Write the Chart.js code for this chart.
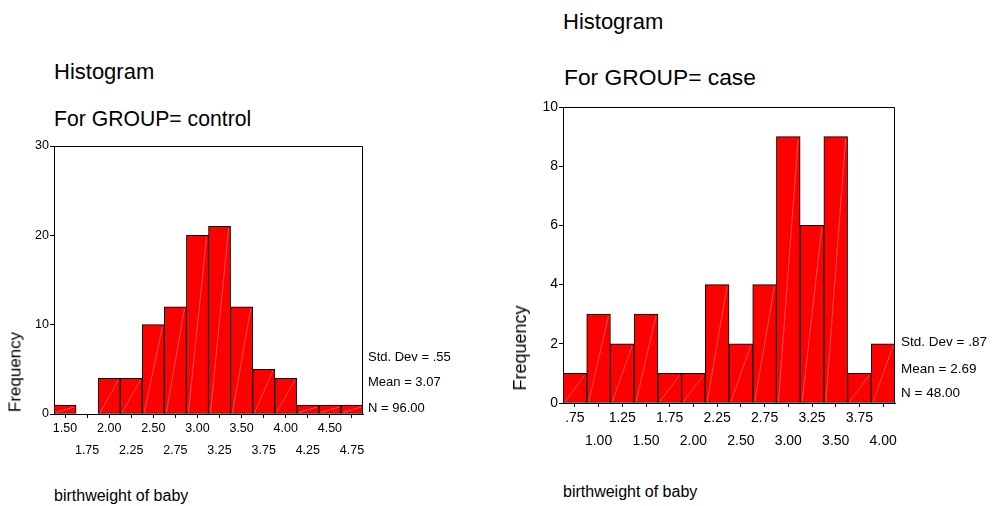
<!DOCTYPE html>
<html><head><meta charset="utf-8">
<script src="https://cdn.jsdelivr.net/npm/chart.js@4.4.1/dist/chart.umd.min.js"></script>
<style>
html,body{margin:0;padding:0;background:#fff;width:998px;height:506px;overflow:hidden;font-family:"Liberation Sans",Arial,sans-serif;color:#000}
.t{position:absolute;white-space:nowrap;line-height:1;z-index:2}
.rot{position:absolute;white-space:nowrap;line-height:1;transform:translate(-50%,-50%) rotate(-90deg);z-index:2}
canvas{position:absolute}
</style></head><body>

<div class="t" style="left:54px;top:61px;font-size:22px">Histogram</div>
<div class="t" style="left:54px;top:108px;font-size:21.2px">For GROUP= control</div>
<div class="t" style="left:563px;top:11px;font-size:22px">Histogram</div>
<div class="t" style="left:564px;top:66px;font-size:22.8px">For GROUP= case</div>

<div class="rot" style="left:15px;top:372px;font-size:17px">Frequency</div>
<div class="rot" style="left:520px;top:348px;font-size:18px">Frequency</div>

<div class="t" style="left:368px;top:350px;font-size:13px">Std. Dev = .55</div>
<div class="t" style="left:368px;top:375px;font-size:13px">Mean = 3.07</div>
<div class="t" style="left:368px;top:401px;font-size:13px">N = 96.00</div>

<div class="t" style="left:901px;top:335px;font-size:13.5px">Std. Dev = .87</div>
<div class="t" style="left:901px;top:362px;font-size:13.5px">Mean = 2.69</div>
<div class="t" style="left:901px;top:386px;font-size:13.5px">N = 48.00</div>

<div class="t" style="left:54px;top:488px;font-size:16px">birthweight of baby</div>
<div class="t" style="left:563px;top:484px;font-size:16px">birthweight of baby</div>

<canvas id="c1" width="380" height="340" style="left:0;top:130px"></canvas>
<canvas id="c2" width="410" height="370" style="left:500px;top:90px"></canvas>

<script>
// ---- data ----
const controlBins = ['1.50','1.75','2.00','2.25','2.50','2.75','3.00','3.25','3.50','3.75','4.00','4.25','4.50','4.75'];
const controlCounts = [1,0,4,4,10,12,20,21,12,5,4,1,1,1];
const controlYMax = 30;
const controlYStep = 10;

const caseBins = ['.75','1.00','1.25','1.50','1.75','2.00','2.25','2.50','2.75','3.00','3.25','3.50','3.75','4.00'];
const caseCounts = [1,3,2,3,1,1,4,2,4,9,6,9,1,2];
const caseYMax = 10;
const caseYStep = 2;

const FONT = '"Liberation Sans", Arial, sans-serif';

const framePlugin = {
  id: 'frame',
  afterDraw(chart) {
    const {ctx, chartArea: a} = chart;
    ctx.save();
    ctx.strokeStyle = '#000';
    ctx.lineWidth = 1;
    ctx.beginPath();
    ctx.moveTo(Math.round(a.left) + 0.5, Math.round(a.top) + 0.5);
    ctx.lineTo(Math.round(a.right) - 0.5, Math.round(a.top) + 0.5);
    ctx.lineTo(Math.round(a.right) - 0.5, Math.round(a.bottom) + 0.5);
    ctx.stroke();
    ctx.restore();
  }
};

const shinePlugin = {
  id: 'shine',
  afterDatasetsDraw(chart) {
    const {ctx} = chart;
    const meta = chart.getDatasetMeta(0);
    ctx.save();
    ctx.strokeStyle = 'rgba(255,190,190,0.6)';
    ctx.lineWidth = 0.7;
    meta.data.forEach((bar, i) => {
      if (!chart.data.datasets[0].data[i]) return;
      const p = bar.getProps(['x', 'y', 'base', 'width'], true);
      const l = p.x - p.width / 2, r = p.x + p.width / 2;
      ctx.beginPath();
      ctx.moveTo(l + 2, p.base - 1);
      ctx.lineTo(r - 2, p.y + 2);
      ctx.stroke();
    });
    ctx.restore();
  }
};

function stagger(bins) {
  return bins.map((b, i) => (i % 2 === 0 ? [b] : ['', b]));
}

function makeChart(id, bins, counts, yMax, yStep, cfg) {
  return new Chart(document.getElementById(id), {
    type: 'bar',
    data: {
      labels: stagger(bins),
      datasets: [{
        data: counts,
        backgroundColor: '#FF0000',
        borderColor: '#000',
        borderWidth: 1,
        borderSkipped: false,
        barPercentage: 1,
        categoryPercentage: 1
      }]
    },
    options: {
      responsive: false,
      animation: false,
      devicePixelRatio: 1,
      layout: {padding: {top: cfg.padTop, right: cfg.padRight, left: 0, bottom: 0}},
      plugins: {legend: {display: false}, tooltip: {enabled: false}},
      scales: {
        x: {
          grid: {display: true, drawOnChartArea: false, offset: false, tickLength: 4, color: '#000'},
          border: {color: '#000', width: 1},
          ticks: {color: '#000', autoSkip: false, maxRotation: 0, padding: 0,
                  font: {family: FONT, size: cfg.tickSize, lineHeight: cfg.rowGap}},
          afterFit(s) { s.height = cfg.xHeight; }
        },
        y: {
          min: 0, max: yMax,
          grid: {display: true, drawOnChartArea: false, tickLength: 4, color: '#000'},
          border: {color: '#000', width: 1},
          ticks: {stepSize: yStep, color: '#000', padding: 1,
                  font: {family: FONT, size: cfg.tickSize}},
          afterFit(s) { s.width = cfg.yWidth; }
        }
      }
    },
    plugins: [framePlugin, shinePlugin]
  });
}

makeChart('c1', controlBins, controlCounts, controlYMax, controlYStep,
  {padTop: 16, padRight: 17, xHeight: 56, yWidth: 54, tickSize: 12.5, rowGap: '22px'});
makeChart('c2', caseBins, caseCounts, caseYMax, caseYStep,
  {padTop: 17, padRight: 15, xHeight: 57, yWidth: 63, tickSize: 14, rowGap: '23px'});
</script>
</body></html>
